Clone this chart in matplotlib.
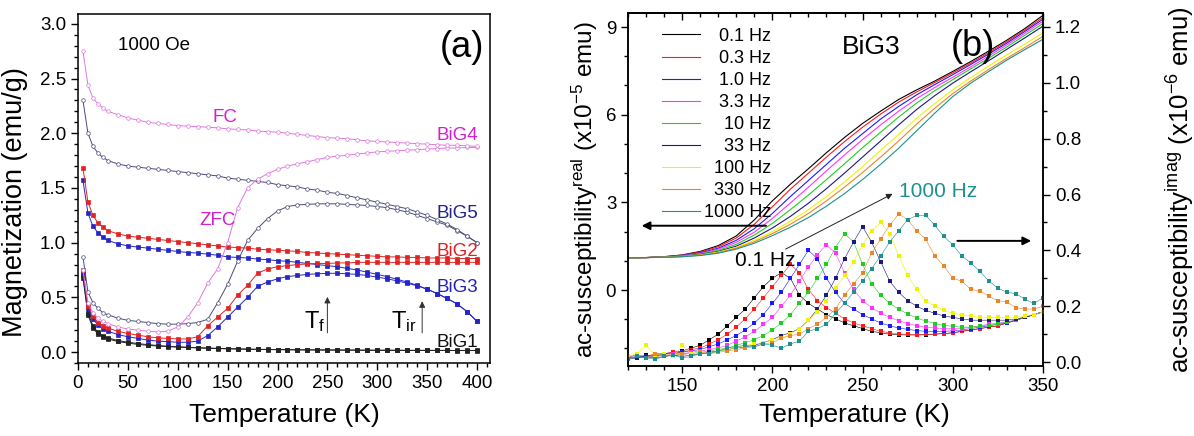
import matplotlib
matplotlib.use("Agg")
import matplotlib.pyplot as plt
from matplotlib.ticker import MultipleLocator, FormatStrFormatter

plt.rcParams['font.family'] = ['Liberation Sans', 'DejaVu Sans']
plt.rcParams['mathtext.fontset'] = 'custom'
plt.rcParams['mathtext.rm'] = 'Liberation Sans'
plt.rcParams['mathtext.it'] = 'Liberation Sans:italic'
plt.rcParams['axes.linewidth'] = 1.1

# ---------------- (a) dc magnetization at 1000 Oe ----------------
temp_dc = [5, 10, 15, 20, 25, 30, 40, 50, 60, 70, 80, 90, 100, 110, 120, 130, 140,
           150, 160, 170, 180, 190, 200, 210, 220, 230, 240, 250, 260, 270, 280,
           290, 300, 310, 320, 330, 340, 350, 360, 370, 380, 390, 400]

big4_fc = [2.75, 2.44, 2.32, 2.27, 2.23, 2.20,
           2.17, 2.14, 2.12, 2.10, 2.09, 2.08, 2.07,
           2.065, 2.06, 2.055, 2.05, 2.04, 2.035, 2.03, 2.02, 2.015, 2.01,
           2.00, 1.99, 1.98, 1.97, 1.96, 1.955, 1.95, 1.94, 1.93, 1.925,
           1.92, 1.915, 1.91, 1.905, 1.90, 1.895, 1.89, 1.89, 1.885, 1.88]
big4_zfc = [0.75, 0.45, 0.36, 0.31, 0.28, 0.26,
            0.23, 0.21, 0.20, 0.19, 0.185, 0.19, 0.23,
            0.32, 0.45, 0.63, 0.76, 1.00, 1.32, 1.50, 1.58, 1.63, 1.67,
            1.70, 1.72, 1.74, 1.76, 1.78, 1.79, 1.80, 1.81, 1.82, 1.83,
            1.835, 1.84, 1.845, 1.85, 1.855, 1.86, 1.865, 1.865, 1.87, 1.87]
big5_fc = [2.30, 2.00, 1.88, 1.82, 1.78, 1.75,
           1.72, 1.70, 1.69, 1.68, 1.67, 1.66, 1.65,
           1.64, 1.63, 1.62, 1.61, 1.59, 1.58, 1.57, 1.56, 1.55, 1.53,
           1.52, 1.51, 1.49, 1.48, 1.46, 1.45, 1.43, 1.41, 1.39, 1.37,
           1.35, 1.33, 1.31, 1.28, 1.25, 1.21, 1.17, 1.12, 1.06, 1.00]
big5_zfc = [0.87, 0.55, 0.45, 0.40, 0.36, 0.34,
            0.31, 0.29, 0.28, 0.27, 0.26, 0.255, 0.255,
            0.26, 0.27, 0.30, 0.45, 0.62, 0.83, 1.02, 1.13, 1.22, 1.29,
            1.33, 1.345, 1.35, 1.355, 1.355, 1.355, 1.35, 1.345, 1.34, 1.33,
            1.32, 1.30, 1.28, 1.25, 1.22, 1.19, 1.16, 1.11, 1.06, 1.00]
big2_fc = [1.68, 1.37, 1.25, 1.18, 1.14, 1.11,
           1.08, 1.06, 1.05, 1.04, 1.03, 1.02, 1.01,
           1.00, 0.99, 0.98, 0.97, 0.96, 0.955, 0.95, 0.94, 0.935, 0.93,
           0.925, 0.92, 0.91, 0.905, 0.90, 0.895, 0.89, 0.885, 0.88, 0.875,
           0.87, 0.87, 0.865, 0.865, 0.86, 0.86, 0.86, 0.855, 0.855, 0.855]
big2_zfc = [0.75, 0.42, 0.33, 0.27, 0.24, 0.22,
            0.19, 0.17, 0.155, 0.14, 0.13, 0.125, 0.12,
            0.12, 0.14, 0.24, 0.32, 0.40, 0.52, 0.61, 0.72, 0.76, 0.78,
            0.79, 0.80, 0.805, 0.81, 0.81, 0.815, 0.815, 0.82, 0.82, 0.82,
            0.82, 0.82, 0.82, 0.82, 0.82, 0.82, 0.82, 0.82, 0.82, 0.82]
big3_fc = [1.57, 1.27, 1.15, 1.09, 1.05, 1.02,
           0.99, 0.97, 0.96, 0.95, 0.94, 0.93, 0.92,
           0.91, 0.905, 0.895, 0.885, 0.87, 0.865, 0.86, 0.85, 0.845, 0.835,
           0.83, 0.82, 0.81, 0.80, 0.79, 0.78, 0.765, 0.75, 0.73, 0.71,
           0.69, 0.665, 0.64, 0.61, 0.575, 0.535, 0.49, 0.44, 0.37, 0.28]
big3_zfc = [0.72, 0.40, 0.30, 0.25, 0.21, 0.19,
            0.16, 0.14, 0.125, 0.11, 0.10, 0.095, 0.09,
            0.09, 0.10, 0.15, 0.23, 0.32, 0.41, 0.50, 0.60, 0.64, 0.67,
            0.69, 0.70, 0.71, 0.715, 0.72, 0.72, 0.715, 0.71, 0.70, 0.685,
            0.67, 0.65, 0.63, 0.605, 0.575, 0.535, 0.49, 0.44, 0.37, 0.28]
big1_fc = [0.70, 0.36, 0.24, 0.18, 0.15, 0.13,
           0.105, 0.09, 0.078, 0.068, 0.06, 0.053, 0.048,
           0.044, 0.04, 0.037, 0.034, 0.031, 0.029, 0.027, 0.025, 0.024, 0.023,
           0.022, 0.021, 0.02, 0.02, 0.019, 0.019, 0.018, 0.018, 0.017, 0.017,
           0.017, 0.016, 0.016, 0.016, 0.016, 0.015, 0.015, 0.015, 0.015, 0.015]
big1_zfc = [0.68, 0.34, 0.22, 0.165, 0.14, 0.12,
            0.097, 0.082, 0.07, 0.062, 0.055, 0.05, 0.045,
            0.042, 0.038, 0.035, 0.032, 0.03, 0.028, 0.026, 0.024, 0.023, 0.022,
            0.021, 0.02, 0.02, 0.019, 0.019, 0.018, 0.018, 0.017, 0.017, 0.016,
            0.016, 0.016, 0.015, 0.015, 0.015, 0.015, 0.015, 0.014, 0.014, 0.014]

# ---------------- (b) ac susceptibility of BiG3 ----------------
freq_labels = ['0.1 Hz', '0.3 Hz', '1.0 Hz', '3.3 Hz', '10 Hz', '33 Hz',
               '100 Hz', '330 Hz', '1000 Hz']
freq_colors = ['#000000', '#ff1a1a', '#1a1aff', '#ff33ff', '#22cc22',
               '#1a1a80', '#f2f200', '#e8862a', '#1f9090']

temp_real = [120, 130, 140, 150, 160, 170, 180, 190, 200, 210, 220, 230,
             240, 250, 260, 270, 280, 290, 300, 310, 320, 330, 340, 350]
chi_real = [
    [1.10, 1.11, 1.14, 1.20, 1.32, 1.52, 1.85, 2.40, 3.05, 3.62, 4.15, 4.70,
     5.22, 5.70, 6.12, 6.52, 6.85, 7.15, 7.48, 7.82, 8.18, 8.55, 8.95, 9.40],
    [1.10, 1.11, 1.14, 1.19, 1.30, 1.48, 1.78, 2.25, 2.85, 3.45, 4.00, 4.55,
     5.08, 5.57, 6.02, 6.43, 6.78, 7.10, 7.43, 7.77, 8.13, 8.50, 8.90, 9.33],
    [1.10, 1.11, 1.13, 1.18, 1.27, 1.43, 1.70, 2.10, 2.62, 3.20, 3.75, 4.30,
     4.85, 5.35, 5.85, 6.28, 6.68, 7.03, 7.37, 7.72, 8.08, 8.45, 8.85, 9.27],
    [1.10, 1.11, 1.13, 1.17, 1.25, 1.40, 1.63, 1.98, 2.45, 2.98, 3.52, 4.08,
     4.62, 5.15, 5.65, 6.12, 6.55, 6.93, 7.28, 7.64, 8.01, 8.39, 8.79, 9.20],
    [1.10, 1.11, 1.13, 1.16, 1.23, 1.36, 1.56, 1.88, 2.28, 2.75, 3.25, 3.78,
     4.32, 4.87, 5.40, 5.92, 6.40, 6.82, 7.20, 7.57, 7.94, 8.32, 8.72, 9.12],
    [1.10, 1.11, 1.12, 1.15, 1.21, 1.32, 1.50, 1.78, 2.12, 2.52, 2.97, 3.47,
     4.00, 4.55, 5.10, 5.65, 6.18, 6.65, 7.08, 7.47, 7.85, 8.24, 8.63, 9.03],
    [1.10, 1.11, 1.12, 1.15, 1.20, 1.30, 1.46, 1.70, 2.00, 2.35, 2.75, 3.20,
     3.70, 4.22, 4.78, 5.32, 5.88, 6.38, 6.85, 7.27, 7.67, 8.05, 8.42, 8.80],
    [1.10, 1.11, 1.12, 1.14, 1.19, 1.28, 1.43, 1.65, 1.93, 2.25, 2.62, 3.05,
     3.52, 4.02, 4.55, 5.10, 5.68, 6.22, 6.72, 7.15, 7.55, 7.93, 8.30, 8.68],
    [1.10, 1.11, 1.12, 1.14, 1.18, 1.26, 1.40, 1.60, 1.86, 2.15, 2.48, 2.87,
     3.30, 3.78, 4.30, 4.85, 5.45, 6.05, 6.62, 7.08, 7.48, 7.87, 8.23, 8.58],
]

temp_imag = [120, 125, 130, 135, 140, 145, 150, 155, 160, 165,
             170, 175, 180, 185, 190, 195, 200, 205, 210, 215,
             220, 225, 230, 235, 240, 245, 250, 255, 260, 265,
             270, 275, 280, 285, 290, 295, 300, 305, 310, 315,
             320, 325, 330, 335, 340, 345, 350]
chi_imag = [
    [0.020, 0.015, 0.025, 0.020, 0.030, 0.035, 0.040, 0.050, 0.060, 0.080,
     0.100, 0.130, 0.160, 0.190, 0.230, 0.270, 0.300, 0.320, 0.300, 0.240,
     0.210, 0.190, 0.170, 0.155, 0.140, 0.130, 0.120, 0.110, 0.105, 0.100,
     0.098, 0.097, 0.097, 0.098, 0.100, 0.102, 0.105, 0.110, 0.115, 0.120,
     0.125, 0.130, 0.140, 0.150, 0.160, 0.170, 0.180],
    [0.020, 0.025, 0.020, 0.030, 0.030, 0.035, 0.035, 0.045, 0.050, 0.065,
     0.080, 0.100, 0.125, 0.155, 0.190, 0.230, 0.270, 0.310, 0.350, 0.320,
     0.260, 0.220, 0.195, 0.175, 0.155, 0.140, 0.130, 0.120, 0.110, 0.105,
     0.100, 0.100, 0.098, 0.100, 0.100, 0.102, 0.105, 0.110, 0.115, 0.120,
     0.125, 0.130, 0.140, 0.150, 0.160, 0.170, 0.180],
    [0.015, 0.020, 0.020, 0.025, 0.030, 0.030, 0.035, 0.040, 0.045, 0.055,
     0.065, 0.080, 0.095, 0.115, 0.140, 0.170, 0.210, 0.250, 0.300, 0.350,
     0.400, 0.370, 0.300, 0.250, 0.210, 0.190, 0.170, 0.155, 0.140, 0.130,
     0.122, 0.117, 0.113, 0.110, 0.110, 0.110, 0.112, 0.115, 0.120, 0.125,
     0.130, 0.135, 0.140, 0.150, 0.160, 0.170, 0.180],
    [0.020, 0.015, 0.020, 0.020, 0.025, 0.030, 0.030, 0.035, 0.040, 0.045,
     0.050, 0.060, 0.075, 0.090, 0.110, 0.135, 0.160, 0.200, 0.240, 0.290,
     0.340, 0.385, 0.420, 0.390, 0.320, 0.260, 0.220, 0.195, 0.175, 0.160,
     0.148, 0.138, 0.130, 0.125, 0.122, 0.120, 0.120, 0.120, 0.125, 0.130,
     0.135, 0.140, 0.145, 0.150, 0.160, 0.170, 0.180],
    [0.015, 0.020, 0.015, 0.020, 0.025, 0.020, 0.030, 0.030, 0.035, 0.040,
     0.045, 0.050, 0.060, 0.070, 0.080, 0.095, 0.115, 0.140, 0.170, 0.210,
     0.250, 0.300, 0.350, 0.410, 0.460, 0.430, 0.350, 0.280, 0.240, 0.210,
     0.190, 0.172, 0.158, 0.147, 0.138, 0.132, 0.128, 0.125, 0.125, 0.128,
     0.132, 0.137, 0.143, 0.150, 0.160, 0.170, 0.180],
    [0.010, 0.015, 0.020, 0.015, 0.020, 0.025, 0.020, 0.025, 0.030, 0.035,
     0.040, 0.045, 0.050, 0.055, 0.060, 0.070, 0.080, 0.095, 0.105, 0.120,
     0.150, 0.190, 0.240, 0.300, 0.370, 0.430, 0.485, 0.430, 0.360, 0.290,
     0.250, 0.220, 0.200, 0.185, 0.175, 0.165, 0.160, 0.155, 0.150, 0.150,
     0.150, 0.150, 0.150, 0.155, 0.160, 0.170, 0.180],
    [0.020, 0.030, 0.060, 0.025, 0.030, 0.020, 0.060, 0.030, 0.035, 0.030,
     0.040, 0.045, 0.050, 0.060, 0.065, 0.070, 0.080, 0.085, 0.100, 0.120,
     0.150, 0.180, 0.220, 0.265, 0.310, 0.360, 0.420, 0.470, 0.500, 0.460,
     0.380, 0.310, 0.260, 0.220, 0.200, 0.185, 0.175, 0.170, 0.165, 0.160,
     0.160, 0.160, 0.160, 0.160, 0.165, 0.170, 0.180],
    [0.010, 0.020, 0.015, 0.030, 0.020, 0.025, 0.030, 0.020, 0.035, 0.030,
     0.035, 0.040, 0.045, 0.050, 0.055, 0.065, 0.070, 0.085, 0.095, 0.100,
     0.120, 0.135, 0.160, 0.190, 0.240, 0.280, 0.320, 0.390, 0.440, 0.490,
     0.530, 0.510, 0.470, 0.440, 0.380, 0.345, 0.300, 0.290, 0.260, 0.255,
     0.235, 0.220, 0.215, 0.195, 0.190, 0.190, 0.200],
    [0.010, 0.020, 0.015, 0.010, 0.020, 0.025, 0.015, 0.020, 0.030, 0.030,
     0.040, 0.050, 0.055, 0.060, 0.055, 0.065, 0.060, 0.050, 0.065, 0.075,
     0.110, 0.120, 0.135, 0.175, 0.210, 0.250, 0.290, 0.335, 0.380, 0.430,
     0.470, 0.510, 0.525, 0.525, 0.490, 0.450, 0.420, 0.380, 0.355, 0.325,
     0.290, 0.265, 0.250, 0.245, 0.225, 0.210, 0.230],
]

TICK_FS = 13.5

fig = plt.figure(figsize=(11.94, 4.36), dpi=100)
ax_a = fig.add_axes([0.0653, 0.1674, 0.3451, 0.8005])
ax_b = fig.add_axes([0.5260, 0.1606, 0.3475, 0.8096])

# ---- panel (a) ----
def draw_pair(zfc, fc, color, marker, filled):
    face = color if filled else 'white'
    for vals in (zfc, fc):
        ax_a.plot(temp_dc, vals, color=color, lw=0.7, marker=marker, ms=2.6,
                  mfc=face, mec=color, mew=0.5)

draw_pair(big1_zfc, big1_fc, '#222222', 's', True)
draw_pair(big3_zfc, big3_fc, '#2626c8', 's', True)
draw_pair(big2_zfc, big2_fc, '#e02424', 's', True)
draw_pair(big5_zfc, big5_fc, '#4a4a7a', 'o', False)
draw_pair(big4_zfc, big4_fc, '#dd77dd', 'o', False)

ax_a.set_xlim(0, 413)
ax_a.set_ylim(-0.1, 3.09)
ax_a.xaxis.set_major_locator(MultipleLocator(50))
ax_a.xaxis.set_minor_locator(MultipleLocator(10))
ax_a.yaxis.set_major_locator(MultipleLocator(0.5))
ax_a.yaxis.set_minor_locator(MultipleLocator(0.1))
ax_a.yaxis.set_major_formatter(FormatStrFormatter('%.1f'))
ax_a.tick_params(which='both', direction='out', labelsize=TICK_FS, width=1.0)
ax_a.tick_params(which='major', length=5)
ax_a.tick_params(which='minor', length=3)
ax_a.set_xlabel('Temperature (K)', fontsize=19, va='center')
ax_a.xaxis.set_label_coords(0.5, -0.15)
ax_a.set_ylabel('Magnetization (emu/g)', fontsize=19.5, va='center')
ax_a.yaxis.set_label_coords(-0.153, 0.46)

ax_a.text(40, 2.8, '1000 Oe', fontsize=13.5, va='center')
ax_a.text(0.985, 0.905, '(a)', transform=ax_a.transAxes, fontsize=26,
          ha='right', va='center')
ax_a.text(147, 2.14, 'FC', fontsize=13.5, color='#d21fd2', ha='center', va='center')
ax_a.text(140, 1.2, 'ZFC', fontsize=13.5, color='#d21fd2', ha='center', va='center')
ax_a.text(401, 1.98, 'BiG4', fontsize=13.5, color='#d21fd2', ha='right', va='center')
ax_a.text(401, 1.27, 'BiG5', fontsize=13.5, color='#222288', ha='right', va='center')
ax_a.text(401, 0.915, 'BiG2', fontsize=13.5, color='#e02020', ha='right', va='center')
ax_a.text(401, 0.59, 'BiG3', fontsize=13.5, color='#2222bb', ha='right', va='center')
ax_a.text(401, 0.09, 'BiG1', fontsize=13.5, color='#111111', ha='right', va='center')

for t_mark, top, label, xt in [(250, 0.53, r'T$_{\rm f}$', 237),
                               (345, 0.49, r'T$_{\rm ir}$', 327)]:
    ax_a.annotate('', xy=(t_mark, top), xytext=(t_mark, 0.15),
                  arrowprops=dict(arrowstyle='-|>', lw=0.7, color='#333333',
                                  mutation_scale=9))
    ax_a.text(xt, 0.28, label, fontsize=17, ha='center', va='center')

# ---- panel (b) ----
ax_r = ax_b.twinx()
handles = []
for vals, col, lab in zip(chi_real, freq_colors, freq_labels):
    h, = ax_b.plot(temp_real, vals, color=col, lw=0.8, label=lab)
    handles.append(h)
for vals, col in zip(chi_imag, freq_colors):
    ax_r.plot(temp_imag, vals, color=col, lw=0.4, marker='s', ms=2.2,
              mec=col, mfc=col, mew=0)

ax_b.set_xlim(120, 350)
ax_b.set_ylim(-2.6, 9.48)
ax_r.set_ylim(-0.014, 1.25)
ax_b.xaxis.set_major_locator(MultipleLocator(50))
ax_b.xaxis.set_minor_locator(MultipleLocator(10))
ax_b.yaxis.set_major_locator(MultipleLocator(3))
ax_b.yaxis.set_minor_locator(MultipleLocator(1))
ax_r.yaxis.set_major_locator(MultipleLocator(0.2))
ax_r.yaxis.set_minor_locator(MultipleLocator(0.1))
ax_r.yaxis.set_major_formatter(FormatStrFormatter('%.1f'))
for a in (ax_b, ax_r):
    a.tick_params(which='both', direction='out', labelsize=TICK_FS, width=1.0)
    a.tick_params(which='major', length=5)
    a.tick_params(which='minor', length=3)

top_axis = ax_b.secondary_xaxis('top')
top_axis.xaxis.set_major_locator(MultipleLocator(50))
top_axis.xaxis.set_minor_locator(MultipleLocator(10))
top_axis.tick_params(which='both', direction='in', labeltop=False, width=1.0)
top_axis.tick_params(which='major', length=5)
top_axis.tick_params(which='minor', length=3)

ax_b.set_xlabel('Temperature (K)', fontsize=19, va='center')
ax_b.xaxis.set_label_coords(0.545, -0.14)
ax_b.set_ylabel(r'ac-susceptibility$^{\rm real}$ (x10$^{-5}$ emu)',
                fontsize=17.5, va='center')
ax_b.yaxis.set_label_coords(-0.105, 0.5)
ax_r.set_ylabel(r'ac-susceptibility$^{\rm imag}$ (x10$^{-6}$ emu)',
                fontsize=18.5, va='center', rotation=90)
ax_r.yaxis.set_label_coords(1.33, 0.5)

leg = ax_b.legend(handles=handles, loc='upper left', bbox_to_anchor=(0.082, 0.958),
                  frameon=False, fontsize=13, handlelength=2.1,
                  labelspacing=0.28, borderpad=0, borderaxespad=0,
                  handletextpad=0.2)

ax_b.text(0.585, 0.905, 'BiG3', transform=ax_b.transAxes, fontsize=19,
          ha='center', va='center')
ax_b.text(0.83, 0.905, '(b)', transform=ax_b.transAxes, fontsize=26,
          ha='center', va='center')

ax_b.annotate('', xy=(126, 2.2), xytext=(198, 2.2),
              arrowprops=dict(arrowstyle='-|>', lw=1.4, color='black',
                              mutation_scale=12))
ax_r.annotate('', xy=(345, 0.434), xytext=(301, 0.434),
              arrowprops=dict(arrowstyle='-|>', lw=1.4, color='black',
                              mutation_scale=12))
ax_r.annotate('', xy=(268, 0.607), xytext=(206, 0.40),
              arrowprops=dict(arrowstyle='-|>', lw=0.7, color='#222222',
                              mutation_scale=9))
ax_r.text(196, 0.365, '0.1 Hz', fontsize=15, ha='center', va='center')
ax_r.text(270, 0.61, '1000 Hz', fontsize=15, color='#1f9090', ha='left',
          va='center')

# right-align the legend labels
fig.canvas.draw()
renderer = fig.canvas.get_renderer()
texts = leg.get_texts()
widths = [t.get_window_extent(renderer).width for t in texts]
for t, w in zip(texts, widths):
    t.set_x(max(widths) - w)

fig.savefig('out.png', dpi=100)
